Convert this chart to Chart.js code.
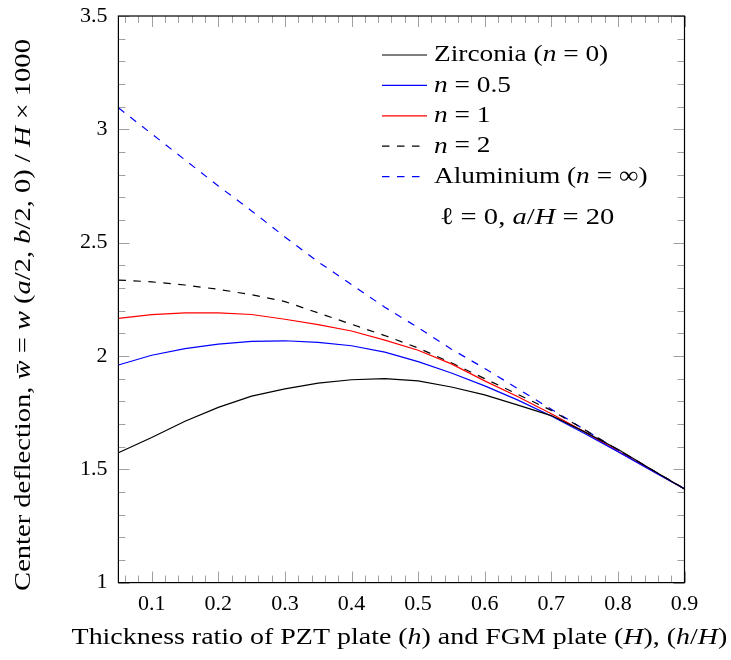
<!DOCTYPE html>
<html><head><meta charset="utf-8">
<script src="https://cdn.jsdelivr.net/npm/chart.js@4/dist/chart.umd.min.js"></script>
<style>html,body{margin:0;padding:0;background:#fff}#wrap{width:731px;height:660px}</style>
</head><body><div id="wrap"><canvas id="c" width="731" height="660"></canvas></div>
<script>
// ---- data ----
const thickness = [0.05,0.1,0.15,0.2,0.25,0.3,0.35,0.4,0.45,0.5,0.55,0.6,0.65,0.7,0.75,0.8,0.85,0.9];
const zirconia  = [1.573,1.640,1.712,1.773,1.823,1.855,1.880,1.895,1.900,1.890,1.863,1.828,1.783,1.737,1.665,1.588,1.500,1.413];
const n05       = [1.960,2.003,2.032,2.052,2.064,2.067,2.060,2.045,2.017,1.975,1.925,1.868,1.805,1.735,1.658,1.578,1.495,1.413];
const n1        = [2.166,2.182,2.190,2.190,2.183,2.162,2.138,2.110,2.070,2.025,1.965,1.890,1.820,1.745,1.665,1.580,1.497,1.413];
const n2        = [2.335,2.327,2.313,2.294,2.270,2.240,2.190,2.140,2.090,2.035,1.970,1.900,1.830,1.760,1.675,1.585,1.500,1.414];
const aluminium = [3.095,2.980,2.865,2.750,2.640,2.525,2.415,2.315,2.215,2.125,2.030,1.945,1.855,1.765,1.675,1.585,1.500,1.415];
const xTickLabels = [0.1,0.2,0.3,0.4,0.5,0.6,0.7,0.8,0.9];
const yTickLabels = [1,1.5,2,2.5,3,3.5];
const seriesNames = ["Zirconia (n = 0)","n = 0.5","n = 1","n = 2","Aluminium (n = ∞)"];
// rich-text versions of the labels: [text, italic?]
const legendRich = [
  [["Zirconia (",0],["n",1],[" = 0)",0]],
  [["n",1],[" = 0.5",0]],
  [["n",1],[" = 1",0]],
  [["n",1],[" = 2",0]],
  [["Aluminium (",0],["n",1],[" = ∞)",0]]
];
const noteRich = [["ℓ",0],[" = 0, ",0],["a",1],["/",0],["H",1],[" = 20",0]];
const xTitleRich = [["Thickness ratio of PZT plate (",0],["h",1],[") and FGM plate (",0],["H",1],["), (",0],["h",1],["/",0],["H",1],[")",0]];
const yTitleRich = [["Center deflection, ",0],["w\u0304",1],[" = ",0],["w",1],[" (",0],["a",1],["/2, ",0],["b",1],["/2, 0) / ",0],["H",1],[" × 1000",0]];

const FONT = '"Liberation Serif", "DejaVu Serif", serif';

function richWidth(ctx, segs, size, hs){
  let w=0;
  for(const [t,it] of segs){ ctx.font=(it?'italic ':'')+size+'px '+FONT; w+=ctx.measureText(t).width*hs; }
  return w;
}
function drawRich(ctx, segs, x, y, size, align, hs){
  const w = richWidth(ctx, segs, size, hs);
  let cx = align==='center' ? x-w/2 : (align==='right'? x-w : x);
  ctx.save();
  ctx.textBaseline='middle'; ctx.textAlign='left'; ctx.fillStyle='#000';
  for(const [t,it] of segs){
    ctx.font=(it?'italic ':'')+size+'px '+FONT;
    const tw=ctx.measureText(t).width;
    ctx.save(); ctx.translate(cx,y); ctx.scale(hs,1); ctx.fillText(t,0,0); ctx.restore();
    cx+=tw*hs;
  }
  ctx.restore();
}

const decor = {
  id:'decor',
  beforeDatasetsDraw(chart){
    const {ctx, chartArea:a, scales:{x,y}} = chart;
    ctx.save();
    ctx.strokeStyle='#a0a0a0'; ctx.lineWidth=1;
    ctx.beginPath();
    for(let k=3;k<=45;k++){
      const v=k*0.02, px=Math.round(x.getPixelForValue(v))+0.5, L=(k%5===0)?11:7;
      ctx.moveTo(px,a.bottom); ctx.lineTo(px,a.bottom-L);
      ctx.moveTo(px,a.top); ctx.lineTo(px,a.top+L);
    }
    for(let k=10;k<=35;k++){
      const v=k/10, py=Math.round(y.getPixelForValue(v))+0.5, L=(k%5===0)?11:7;
      ctx.moveTo(a.left,py); ctx.lineTo(a.left+L,py);
      ctx.moveTo(a.right,py); ctx.lineTo(a.right-L,py);
    }
    ctx.stroke();
    ctx.restore();
  },
  afterDatasetsDraw(chart){
    const {ctx, chartArea:a} = chart;
    ctx.save();
    ctx.strokeStyle='#000'; ctx.lineWidth=1.2;
    ctx.strokeRect(a.left,a.top,a.right-a.left,a.bottom-a.top);
    // legend
    chart.data.datasets.forEach((ds,i)=>{
      const yy=55+i*30.4;
      ctx.save();
      ctx.strokeStyle=ds.borderColor; ctx.lineWidth=ds.borderWidth;
      ctx.setLineDash(ds.borderDash||[]);
      ctx.beginPath(); ctx.moveTo(382,yy); ctx.lineTo(427,yy); ctx.stroke();
      ctx.restore();
      drawRich(ctx, legendRich[i], 434, yy, 24, 'left', 1.14);
    });
    drawRich(ctx, noteRich, 527, 218, 24, 'center', 1.19);
    // axis titles
    drawRich(ctx, xTitleRich, (a.left+a.right)/2 - 2, 638, 23, 'center', 1.215);
    ctx.save(); ctx.translate(24,315); ctx.rotate(-Math.PI/2);
    drawRich(ctx, yTitleRich, 0, 0, 23, 'center', 1.24);
    ctx.restore();
    ctx.restore();
  }
};

const mk = (arr)=>thickness.map((t,i)=>({x:t,y:arr[i]}));
const colors = ['#000000','#0000ff','#ff0000','#000000','#0000ff'];
const dashes = [[],[],[],[7.5,7.5],[7.5,7.5]];
const series = [zirconia,n05,n1,n2,aluminium];

new Chart(document.getElementById('c'),{
  type:'line',
  data:{datasets: series.map((s,i)=>({label:seriesNames[i], data:mk(s), borderColor:colors[i], borderWidth:1.2, borderDash:dashes[i], pointRadius:0, tension:0, fill:false}))},
  options:{
    responsive:false, animation:false, devicePixelRatio:1,
    layout:{padding:{left:0,right:46.5,top:16,bottom:0}},
    plugins:{legend:{display:false}, tooltip:{enabled:false}},
    scales:{
      x:{type:'linear', min:0.05, max:0.9,
        afterBuildTicks(s){ s.ticks = xTickLabels.map(v=>({value:v})); },
        afterFit(s){ s.height = 77.4; },
        grid:{display:false, drawTicks:false}, border:{display:false},
        ticks:{padding:8, color:'#000', font:{family:FONT,size:22}, maxRotation:0, autoSkip:false, callback:v=>String(v)}
      },
      y:{type:'linear', min:1, max:3.5,
        afterBuildTicks(s){ s.ticks = yTickLabels.map(v=>({value:v})); },
        afterFit(s){ s.width = 118.4; },
        grid:{display:false, drawTicks:false}, border:{display:false},
        ticks:{padding:11, color:'#000', font:{family:FONT,size:22,lineHeight:0.3}, autoSkip:false, callback:v=>String(v)}
      }
    }
  },
  plugins:[decor]
});
</script></body></html>
